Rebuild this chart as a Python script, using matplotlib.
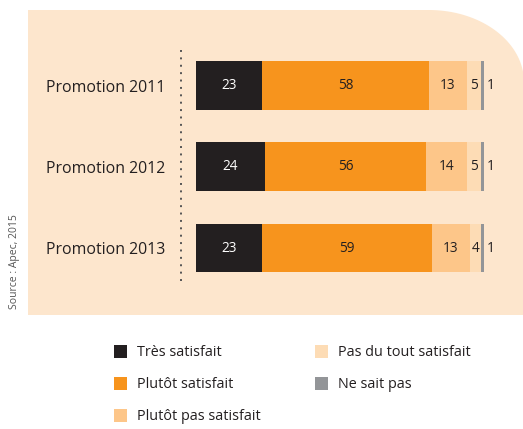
import numpy as np
import matplotlib
matplotlib.use('Agg')
from matplotlib import pyplot as plt
from matplotlib.patches import Polygon, Rectangle

plt.rcParams['font.family'] = ['Open Sans', 'DejaVu Sans']

promotions = ['Promotion 2011', 'Promotion 2012', 'Promotion 2013']
categories = ['Très satisfait', 'Plutôt satisfait', 'Plutôt pas satisfait',
              'Pas du tout satisfait', 'Ne sait pas']
tres_satisfait = [23, 24, 23]
plutot_satisfait = [58, 56, 59]
plutot_pas = [13, 14, 13]
pas_du_tout = [5, 5, 4]
ne_sait_pas = [1, 1, 1]

series = [tres_satisfait, plutot_satisfait, plutot_pas, pas_du_tout, ne_sait_pas]
colors = ['#231f20', '#f7941d', '#fdc689', '#fddcb5', '#939598']
text_color = '#231f20'
bg_color = '#fde6cd'

W, H = 523, 429
fig = plt.figure(figsize=(W / 100, H / 100), dpi=100)

# background axes in pixel coordinates
bg = fig.add_axes([0, 0, 1, 1])
bg.set_xlim(0, W)
bg.set_ylim(H, 0)
bg.axis('off')

# beige panel with rounded top-right corner
rx, ry = 95, 72
left, top, right, bottom = 28, 10, W + 1, 315
t = np.linspace(np.pi / 2, 0, 40)
arc = np.column_stack([right - rx + rx * np.cos(t), top + ry - ry * np.sin(t)])
pts = np.vstack([[left, bottom], [left, top], arc, [right, bottom]])
bg.add_patch(Polygon(pts, closed=True, facecolor=bg_color, edgecolor='none'))

# dotted separator
bg.plot([181, 181], [50, 285], color='#555555', lw=1.4, ls=(0, (1, 2.8)))

bg.text(15, 262, 'Source : Apec, 2015', rotation=90, ha='center', va='center',
        fontsize=7.5, color='#555555')

# legend drawn by hand
leg_pos = [(114, 352), (114, 384), (114, 416), (315, 352), (315, 384)]
for (x, y), lab, c in zip(leg_pos, categories, colors):
    bg.add_patch(Rectangle((x, y - 7), 13, 13, facecolor=c, edgecolor='none'))
    bg.text(x + 23, y, lab, ha='left', va='center', fontsize=10.4, color=text_color)

# bars
ax = fig.add_axes([196 / W, 1 - 296.75 / H, 288 / W, 260 / H])
ax.patch.set_alpha(0)
y = np.arange(len(promotions))
lefts = np.zeros(len(promotions))
for k, (vals, c) in enumerate(zip(series, colors)):
    vals = np.array(vals)
    ax.barh(y, vals, left=lefts, height=0.6, color=c, edgecolor='none')
    for yi, l, v in zip(y, lefts, vals):
        if k == 4:
            ax.text(l + v + 0.8, yi, str(v), ha='left', va='center',
                    fontsize=9.8, color=text_color)
        else:
            ax.text(l + v / 2, yi, str(v), ha='center', va='center', fontsize=9.8,
                    color='white' if k == 0 else text_color)
    lefts = lefts + vals

ax.set_xlim(0, 100)
ax.set_ylim(2.6, -0.6)
ax.set_yticks(y)
ax.set_yticklabels(promotions, fontsize=11.4, color=text_color)
ax.tick_params(axis='y', length=0, pad=22)
ax.set_xticks([])
for s in ax.spines.values():
    s.set_visible(False)

fig.savefig('out.png', dpi=100)
